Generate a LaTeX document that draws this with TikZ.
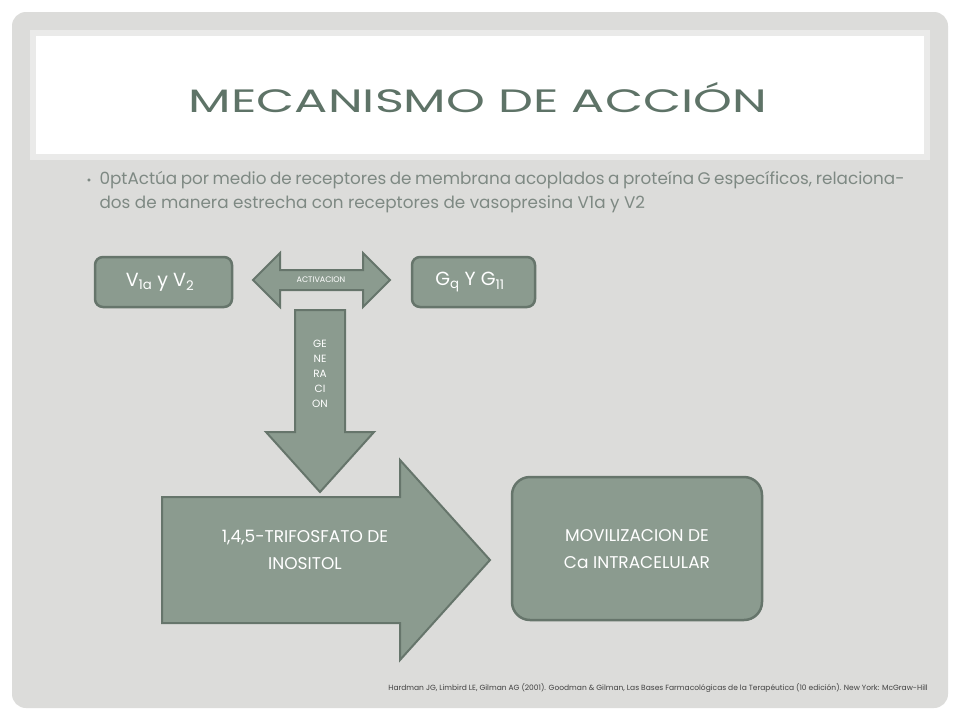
\documentclass[tikz,border=0pt]{standalone}
\usepackage{fontspec}
\usepackage{graphicx}
\setmainfont{Poppins}
\usetikzlibrary{shapes.arrows}
\definecolor{bg}{HTML}{DCDCDA}
\definecolor{boxf}{HTML}{8B9B8F}
\definecolor{boxd}{HTML}{66756B}
\definecolor{titc}{HTML}{5E7367}
\definecolor{txt}{HTML}{7E8983}
\tikzset{
 rbox/.style={draw=boxd,line width=2.5pt,fill=boxf,rounded corners=8pt,text=white},
 shp/.style={draw=boxd,line width=2pt,fill=boxf},
 wtxt/.style={text=white,align=center}
}
\begin{document}
\begin{tikzpicture}[x=1pt,y=-1pt]
\useasboundingbox (0,0) rectangle (960,720);
\fill[white] (0,0) rectangle (960,720);
\fill[bg,rounded corners=14pt] (12,12) rectangle (948,708);
\fill[white] (30,30) rectangle (930,160);
\draw[bg!60!white,line width=6pt] (33,33) rectangle (927,157);
\node[text=titc] (title) at (478,98) {\resizebox{578pt}{30pt}{MECANISMO DE ACCIÓN}};
\node[text=txt,anchor=north west,text width=805pt,align=justify,font=\fontsize{16.8}{24}\selectfont\hyphenpenalty=10000] (body) at (96,168) {Actúa por medio de receptores de membrana acoplados a proteína G específicos, relacionados de manera estrecha con receptores de vasopresina V1a y V2};
\node[text=txt,font=\fontsize{12}{12}\selectfont] (bul) at (89,182) {•};
\draw[rbox] (95,257) rectangle (232,307);
\node[text=white,font=\fontsize{19}{20}\selectfont] (v) at (160,282) {V\textsubscript{1a} y V\textsubscript{2}};
\draw[rbox] (412,257) rectangle (535,307);
\node[text=white,font=\fontsize{19}{20}\selectfont] (g) at (470,282) {G\textsubscript{q} Y G\textsubscript{11}};
\draw[shp] (253,280) -- (280,253) -- (280,270) -- (363,270) -- (363,253) -- (390,280) -- (363,307) -- (363,290) -- (280,290) -- (280,307) -- cycle;
\node[wtxt,font=\fontsize{8}{8}\selectfont] (act) at (321,280) {ACTIVACION};
\draw[shp] (295,310) -- (345,310) -- (345,432) -- (374,432) -- (320,492) -- (266,432) -- (295,432) -- cycle;
\node[wtxt,font=\fontsize{10.5}{15}\selectfont] (gen) at (320,374) {GE\\NE\\RA\\CI\\ON};
\draw[shp] (162,497) -- (400,497) -- (400,460) -- (490,560) -- (400,660) -- (400,623) -- (162,623) -- cycle;
\node[wtxt,font=\fontsize{17}{27}\selectfont] (ino) at (305,550) {1,4,5-TRIFOSFATO DE\\INOSITOL};
\draw[rbox,rounded corners=18pt] (512,477) rectangle (762,620);
\node[wtxt,font=\fontsize{17}{27}\selectfont] (mov) at (637,549) {MOVILIZACION DE\\Ca INTRACELULAR};
\node[text=black!75,anchor=east,inner sep=0pt,font=\fontsize{7.5}{8}\selectfont] (ref) at (928,688) {Hardman JG, Limbird LE, Gilman AG (2001). Goodman \& Gilman, Las Bases Farmacológicas de la Terapéutica (10 edición). New York: McGraw-Hill};
\end{tikzpicture}
\end{document}
